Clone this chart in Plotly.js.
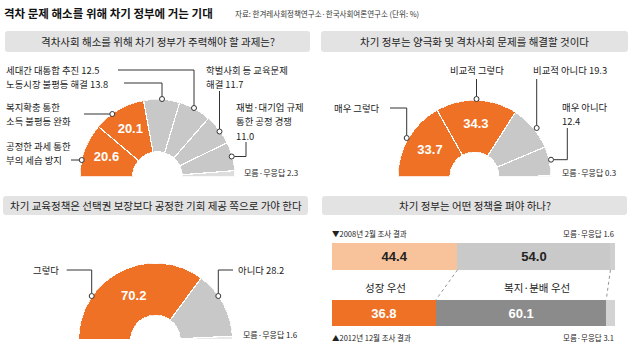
<!DOCTYPE html>
<html><head><meta charset="utf-8">
<script src="https://cdn.plot.ly/plotly-3.0.1.min.js"></script>
<style>html,body{margin:0;padding:0;background:#fff}#chart{width:630px;height:356px}</style>
</head><body><div id="chart"></div>
<script>
// ---------- DATA ----------
const p1Labels = ['공정한 과세 통한 부의 세습 방지','복지확충 통한 소득 불평등 완화','노동시장 불평등 해결','세대간 대통합 추진','학벌사회 등 교육문제 해결','재벌·대기업 규제 통한 공정 경쟁','모름·무응답'];
const p1Values = [20.6, 20.1, 13.8, 12.5, 11.7, 11.0, 2.3];
const p2Labels = ['매우 그렇다','비교적 그렇다','비교적 아니다','매우 아니다','모름·무응답'];
const p2Values = [33.7, 34.3, 19.3, 12.4, 0.3];
const p3Labels = ['그렇다','아니다','모름·무응답'];
const p3Values = [70.2, 28.2, 1.6];
const surveys = ['2008년 2월 조사 결과','2012년 12월 조사 결과'];
const growthFirst = [44.4, 36.8];
const welfareFirst = [54.0, 60.1];
const unknownShare = [1.6, 3.1];
const barCategories = ['성장 우선','복지·분배 우선','모름·무응답'];

// ---------- HELPERS ----------
const W = 630, H = 356;
const px = x => x / W, py = y => 1 - y / H;
const ORANGE = '#ee7125', GRAY = '#c8c8c8', LIGHT = '#dddddd';
const KR = 'Noto Sans CJK KR';
const LBL = 9.4;
const f = v => v.toFixed(1);

function wedges(values) {
  const total = values.reduce((a, b) => a + b, 0);
  let cum = 0;
  return values.map(v => { const w = v / total * 180; const mid = cum + w / 2; cum += w; return { w, mid }; });
}
function semiDomain(cx, cy, R) { return { x: [px(cx - R), px(cx + R)], y: [py(cy), py(cy - R)] }; }
function polarLayout(cx, cy, R) {
  return {
    domain: semiDomain(cx, cy, R), sector: [0, 180], hole: 0.32, bgcolor: 'rgba(0,0,0,0)',
    radialaxis: { visible: false, range: [0, 1] },
    angularaxis: { visible: false, rotation: 180, direction: 'clockwise', showgrid: false }
  };
}
function halfDonut(values, colors, subplot) {
  const wd = wedges(values);
  return {
    type: 'barpolar', subplot, r: values.map(() => 1), theta: wd.map(d => d.mid), width: wd.map(d => d.w),
    marker: { color: colors, line: { color: '#fff', width: 1.2 } }, hoverinfo: 'skip', showlegend: false
  };
}
function valueText(values, idx, r, subplot) {
  const wd = wedges(values);
  return {
    type: 'scatterpolar', subplot, mode: 'text', r: idx.map(() => r), theta: idx.map(i => wd[i].mid),
    text: idx.map(i => '<b>' + f(values[i]) + '</b>'),
    textfont: { family: 'Liberation Sans', size: 13, color: '#fff' }, hoverinfo: 'skip', showlegend: false
  };
}
function roundRect(x0, y0, x1, y1, r) {
  const X = px, Y = py;
  return `M${X(x0 + r)},${Y(y0)} L${X(x1 - r)},${Y(y0)} Q${X(x1)},${Y(y0)} ${X(x1)},${Y(y0 + r)} L${X(x1)},${Y(y1 - r)} Q${X(x1)},${Y(y1)} ${X(x1 - r)},${Y(y1)} L${X(x0 + r)},${Y(y1)} Q${X(x0)},${Y(y1)} ${X(x0)},${Y(y1 - r)} L${X(x0)},${Y(y0 + r)} Q${X(x0)},${Y(y0)} ${X(x0 + r)},${Y(y0)} Z`;
}
const shapes = [], annotations = [];
function header(x0, y0, x1, y1, text) {
  shapes.push({ type: 'path', xref: 'paper', yref: 'paper', path: roundRect(x0, y0, x1, y1, 3), fillcolor: '#e3e3e3', line: { width: 0 }, layer: 'below' });
  annotations.push({ xref: 'paper', yref: 'paper', x: px((x0 + x1) / 2), y: py((y0 + y1) / 2), text, showarrow: false, xanchor: 'center', yanchor: 'middle', font: { family: KR, size: 10.5, color: '#222' } });
}
function leader(points, dot) {
  const path = points.map((p, i) => (i ? 'L' : 'M') + px(p[0]) + ',' + py(p[1])).join(' ');
  shapes.push({ type: 'path', xref: 'paper', yref: 'paper', path, line: { color: '#333', width: 1 } });
  const r = 2.5;
  shapes.push({ type: 'circle', xref: 'paper', yref: 'paper', x0: px(dot[0] - r), x1: px(dot[0] + r), y0: py(dot[1] + r), y1: py(dot[1] - r), fillcolor: '#fff', line: { color: '#333', width: 1 } });
}
function label(x, y, text, opts = {}) {
  annotations.push(Object.assign({ xref: 'paper', yref: 'paper', x: px(x), y: py(y), text, showarrow: false, xanchor: 'left', yanchor: 'middle', align: 'left', borderpad: 0, font: { family: KR, size: LBL, color: '#222' } }, opts));
}
function lines(x, ys, texts, opts) { texts.forEach((t, i) => label(x, ys[i], t, opts)); }

// ---------- TITLE ----------
label(3, 13, '<b>격차 문제 해소를 위해 차기 정부에 거는 기대</b>', { font: { family: KR, size: 11.5, color: '#111' } });
label(234, 13, '자료: 한겨레사회정책연구소·한국사회여론연구소 (단위: %)', { font: { family: KR, size: 7.5, color: '#333' } });

// ---------- PANEL 1 ----------
header(5, 31, 310, 52, '격차사회 해소를 위해 차기 정부가 주력해야 할 과제는?');
label(5, 69.5, p1Labels[3] + ' ' + f(p1Values[3]));
label(5, 83.5, p1Labels[2] + ' ' + f(p1Values[2]));
lines(5, [107.5, 121.5], ['복지확충 통한', '소득 불평등 완화']);
lines(5, [146, 160], ['공정한 과세 통한', '부의 세습 방지']);
lines(205, [69.5, 83.5], ['학벌사회 등 교육문제', '해결 ' + f(p1Values[4])]);
lines(235, [107.5, 121.5, 135.5], ['재벌·대기업 규제', '통한 공정 경쟁', f(p1Values[5])]);
label(243, 172, p1Labels[6] + ' ' + f(p1Values[6]), { font: { family: KR, size: 8, color: '#222' } });
leader([[118, 70], [194, 70], [194, 105.5]], [194, 108]);
leader([[124, 83], [162, 83], [162, 96.5]], [162, 99]);
leader([[84, 114], [110, 114]], [112.3, 114]);
leader([[71, 160], [79, 160]], [81.7, 160]);
leader([[219.5, 91], [219.5, 129]], [219.5, 131.5]);
leader([[246, 142], [246, 156.5], [234.2, 156.5]], [231.7, 156.5]);

// ---------- PANEL 2 ----------
header(321, 31, 628, 52, '차기 정부는 양극화 및 격차사회 문제를 해결할 것이다');
label(476.5, 69.5, p2Labels[1], { xanchor: 'center' });
label(531.7, 69.5, p2Labels[2] + ' ' + f(p2Values[2]));
label(333, 108, p2Labels[0]);
lines(560.7, [107.5, 121.5], [p2Labels[3], f(p2Values[3])]);
label(560.7, 172, p2Labels[4] + ' ' + f(p2Values[4]), { font: { family: KR, size: 8, color: '#222' } });
leader([[476.5, 79], [476.5, 96.5]], [476.5, 99]);
leader([[536.7, 79], [536.7, 125.5]], [536.7, 128]);
leader([[390, 108], [406.7, 108], [406.7, 135.5]], [406.7, 138]);
leader([[567.3, 128], [567.3, 159.7], [553.5, 159.7]], [551, 159.7]);

// ---------- PANEL 3 ----------
header(3, 196, 308, 215, '차기 교육정책은 선택권 보장보다 공정한 기회 제공 쪽으로 가야 한다');
label(31.7, 270, p3Labels[0]);
label(236.7, 270, p3Labels[1] + ' ' + f(p3Values[1]));
label(241.7, 334.7, p3Labels[2] + ' ' + f(p3Values[2]), { font: { family: KR, size: 8, color: '#222' } });
leader([[66.7, 270], [91.7, 270], [91.7, 293.5]], [91.7, 296]);
leader([[233, 270], [218.3, 270], [218.3, 293.5]], [218.3, 296]);

// ---------- PANEL 4 ----------
header(322, 196, 627, 215, '차기 정부는 어떤 정책을 펴야 하나?');
const small = { family: KR, size: 7.5, color: '#222' };
label(331, 233, '▼' + surveys[0], { font: small });
label(615, 233, barCategories[2] + ' ' + f(unknownShare[0]), { xanchor: 'right', font: small });
label(331, 337, '▲' + surveys[1], { font: small });
label(615, 337, barCategories[2] + ' ' + f(unknownShare[1]), { xanchor: 'right', font: small });
label(385, 287, barCategories[0], { xanchor: 'center', font: { family: KR, size: 10.5, color: '#222' } });
label(537, 287, barCategories[1], { xanchor: 'center', font: { family: KR, size: 10.5, color: '#222' } });

const barY = [1, 0], BW = 0.47;
const barTrace = (vals, colors, textColors, showText) => ({
  type: 'bar', orientation: 'h', x: vals, y: barY, width: BW, xaxis: 'x', yaxis: 'y',
  marker: { color: colors, line: { width: 0 } },
  text: showText ? vals.map(v => '<b>' + f(v) + '</b>') : undefined,
  textposition: showText ? 'inside' : 'none', insidetextanchor: 'middle',
  textfont: { family: 'Liberation Sans', size: 13, color: textColors },
  hoverinfo: 'skip', showlegend: false
});
// dashed connectors at segment boundaries
[0, 1].forEach(k => {
  const a = growthFirst[0] + (k ? welfareFirst[0] : 0);
  const b = growthFirst[1] + (k ? welfareFirst[1] : 0);
  shapes.push({ type: 'line', xref: 'x', yref: 'y', x0: a, y0: barY[0] - BW / 2, x1: b, y1: barY[1] + BW / 2, line: { color: '#777', width: 0.8, dash: 'dot' } });
});

const data = [
  halfDonut(p1Values, [ORANGE, ORANGE, GRAY, GRAY, GRAY, GRAY, LIGHT], 'polar'),
  valueText(p1Values, [0, 1], 0.56, 'polar'),
  halfDonut(p2Values, [ORANGE, ORANGE, GRAY, GRAY, LIGHT], 'polar2'),
  valueText(p2Values, [0, 1], 0.52, 'polar2'),
  halfDonut(p3Values, [ORANGE, GRAY, '#e8e8e8'], 'polar3'),
  valueText(p3Values, [0], 0.45, 'polar3'),
  barTrace(growthFirst, ['#f8c29b', ORANGE], ['#222', '#fff'], true),
  barTrace(welfareFirst, ['#c9c9c9', '#8b8b8b'], ['#222', '#fff'], true),
  barTrace(unknownShare, ['#cfcfcf', '#d3d3d3'], ['#222', '#fff'], false)
];

const layout = {
  width: W, height: H, margin: { l: 0, r: 0, t: 0, b: 0 }, paper_bgcolor: '#fff', plot_bgcolor: 'rgba(0,0,0,0)',
  showlegend: false, barmode: 'stack',
  polar: polarLayout(157.5, 176.7, 77.5),
  polar2: polarLayout(474.5, 176.7, 76.5),
  polar3: polarLayout(155.5, 340, 77),
  xaxis: { domain: [px(331.7), px(615)], range: [0, 100], visible: false, fixedrange: true },
  yaxis: { domain: [py(341.2), py(228.5)], range: [-0.5, 1.5], visible: false, fixedrange: true },
  shapes, annotations
};
Plotly.newPlot('chart', data, layout, { displayModeBar: false, staticPlot: true });
</script></body></html>
